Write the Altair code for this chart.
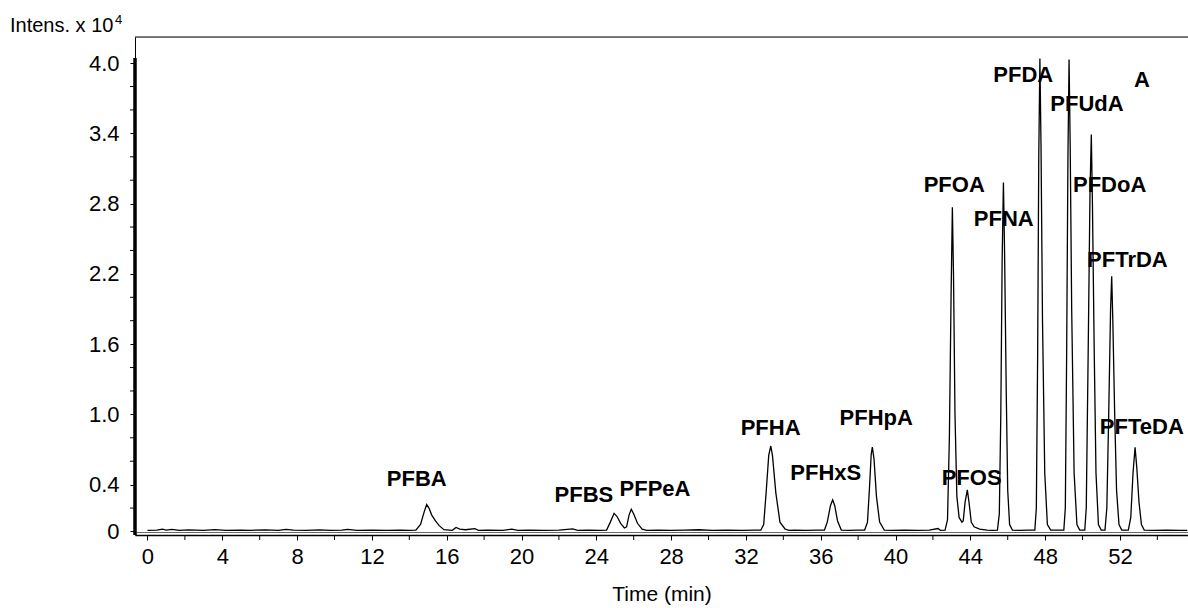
import altair as alt
import pandas as pd

# ---- chromatogram trace (time in min, intensity in 10^4 counts) ----
time_min = [
    0.0, 0.5, 0.8, 1.0, 1.3, 1.7, 2.2, 3.0, 3.6, 4.2, 5.0, 5.5, 6.3, 7.0, 7.4, 7.8,
    8.5, 9.2, 9.8, 10.4, 10.7, 11.2, 12.0, 12.8, 13.5, 14.0,
    14.35, 14.6, 14.8, 14.93, 15.05, 15.2, 15.4, 15.6, 15.85,
    16.3, 16.5, 16.7, 17.0, 17.5, 17.7, 18.2, 19.0, 19.48, 19.8, 20.4, 21.2, 22.0,
    22.74, 23.0, 23.6, 24.2,
    24.55, 24.75, 24.95, 25.1, 25.3, 25.5, 25.62, 25.75, 25.87, 26.0, 26.2, 26.45, 26.7,
    27.3, 28.0, 28.7, 29.5, 30.2, 31.0, 31.8, 32.5,
    32.8, 32.95, 33.08, 33.22, 33.33, 33.42, 33.6, 33.82, 34.1, 34.3,
    34.6, 35.2, 35.8,
    36.2, 36.35, 36.52, 36.64, 36.75, 36.9, 37.1,
    37.5, 38.0,
    38.35, 38.5, 38.6, 38.7, 38.76, 38.85, 38.98, 39.15, 39.4,
    39.8, 40.5, 41.2, 41.8, 42.27, 42.4,
    42.65, 42.78, 42.88, 42.97, 43.04, 43.1, 43.18, 43.28, 43.4, 43.55,
    43.62, 43.72, 43.84, 43.93, 44.05, 44.2, 44.5, 44.9,
    45.2,
    45.45, 45.55, 45.63, 45.7, 45.77, 45.83, 45.92, 46.0, 46.1, 46.25,
    46.6, 47.1,
    47.45, 47.53, 47.6, 47.66, 47.72, 47.78, 47.86, 47.98, 48.12, 48.3,
    48.6,
    49.0, 49.08, 49.15, 49.22, 49.28, 49.34, 49.42, 49.55, 49.7, 49.85,
    50.12, 50.2, 50.3, 50.4, 50.47, 50.53, 50.62, 50.72, 50.85, 51.0,
    51.2, 51.3, 51.4, 51.5, 51.56, 51.62, 51.72, 51.82, 51.95, 52.1,
    52.45, 52.58, 52.7, 52.81, 52.9, 53.02, 53.15, 53.3,
    53.8, 54.5, 55.2, 55.6,
]
intensity = [
    0.010, 0.012, 0.020, 0.012, 0.018, 0.010, 0.014, 0.010, 0.016, 0.010, 0.012, 0.010, 0.014, 0.010, 0.018, 0.012,
    0.010, 0.014, 0.010, 0.012, 0.018, 0.010, 0.012, 0.010, 0.012, 0.010,
    0.012, 0.060, 0.170, 0.230, 0.200, 0.140, 0.090, 0.050, 0.015,
    0.010, 0.035, 0.020, 0.015, 0.025, 0.010, 0.012, 0.010, 0.020, 0.010, 0.012, 0.010, 0.012,
    0.022, 0.010, 0.012, 0.010,
    0.012, 0.080, 0.155, 0.130, 0.070, 0.030, 0.040, 0.140, 0.190, 0.150, 0.070, 0.020, 0.010,
    0.012, 0.010, 0.012, 0.015, 0.010, 0.012, 0.010, 0.012,
    0.012, 0.060, 0.330, 0.650, 0.730, 0.650, 0.330, 0.080, 0.020, 0.010,
    0.012, 0.010, 0.012,
    0.012, 0.080, 0.220, 0.270, 0.220, 0.090, 0.012,
    0.010, 0.012,
    0.012, 0.080, 0.350, 0.660, 0.720, 0.620, 0.300, 0.080, 0.012,
    0.010, 0.012, 0.010, 0.012, 0.025, 0.010,
    0.012, 0.100, 0.800, 2.000, 2.770, 2.200, 1.000, 0.300, 0.120, 0.080,
    0.090, 0.250, 0.355, 0.250, 0.080, 0.040, 0.020, 0.012,
    0.010,
    0.012, 0.150, 1.000, 2.300, 2.980, 2.400, 1.200, 0.350, 0.060, 0.012,
    0.010, 0.012,
    0.012, 0.200, 1.500, 3.200, 4.040, 3.300, 1.800, 0.500, 0.060, 0.012,
    0.012,
    0.012, 0.200, 1.500, 3.200, 4.030, 3.300, 1.900, 0.500, 0.060, 0.012,
    0.012, 0.200, 1.500, 2.900, 3.390, 2.800, 1.600, 0.500, 0.060, 0.012,
    0.012, 0.200, 1.000, 1.900, 2.180, 1.800, 1.000, 0.350, 0.060, 0.012,
    0.012, 0.120, 0.500, 0.720, 0.550, 0.250, 0.060, 0.012,
    0.010, 0.012, 0.010, 0.010,
]

# ---- peak annotations ----
peak_names = ["PFBA", "PFBS", "PFPeA", "PFHA", "PFHxS", "PFHpA", "PFOA", "PFOS",
              "PFNA", "PFDA", "PFUdA", "PFDoA", "PFTrDA", "PFTeDA", "A"]
label_time = [14.4, 23.34, 27.14, 33.32, 36.27, 38.97, 43.14, 44.07,
              45.79, 46.83, 50.24, 51.45, 52.4, 53.17, 53.18]
label_int = [0.45, 0.31, 0.36, 0.88, 0.50, 0.97, 2.96, 0.46,
             2.67, 3.90, 3.65, 2.96, 2.32, 0.89, 3.86]

# ---- axis ticks ----
x_tick_labels = list(range(0, 53, 4))
x_minor_ticks = list(range(2, 55, 4))
y_tick_labels = [0, 0.4, 1.0, 1.6, 2.2, 2.8, 3.4, 4.0]
y_minor_ticks = [0.2, 0.6, 0.8, 1.2, 1.4, 1.8, 2.0, 2.4, 2.6, 3.0, 3.2, 3.6, 3.8]

W, H = 1053, 498
FONT = "Liberation Sans"

trace = pd.DataFrame({"t": time_min, "v": intensity})
labels = pd.DataFrame({"name": peak_names, "t": label_time, "v": label_int})
xminor = pd.DataFrame({"t": x_minor_ticks})
yminor = pd.DataFrame({"v": y_minor_ticks})

xscale = alt.Scale(domain=[-0.668, 55.64], nice=False, zero=False)
yscale = alt.Scale(domain=[-0.03, 4.223], nice=False, zero=False)

x_axis = alt.Axis(values=x_tick_labels, format="d", title="Time (min)",
                  grid=False, tickSize=5, tickColor="black", domainColor="black",
                  domainWidth=1.5, labelFont=FONT, labelFontSize=22, labelColor="black",
                  labelPadding=6, labelOverlap=False, titleFont=FONT, titleFontSize=21,
                  titleFontWeight="normal", titleColor="black", titleBaseline="alphabetic",
                  titleY=65, labelFlush=False)
y_axis = alt.Axis(values=y_tick_labels, labelExpr="datum.value == 0 ? '0' : format(datum.value, '.1f')",
                  title=None, grid=False, tickSize=5, tickColor="black", domainColor="black",
                  domainWidth=1, labelFont=FONT, labelFontSize=22, labelColor="black",
                  labelPadding=11, labelOverlap=False, labelFlush=False)

line = alt.Chart(trace).mark_line(color="black", strokeWidth=1.3, interpolate="linear").encode(
    x=alt.X("t:Q", scale=xscale, axis=x_axis),
    y=alt.Y("v:Q", scale=yscale, axis=y_axis),
)

text = alt.Chart(labels).mark_text(font=FONT, fontSize=22, fontWeight="bold", color="black",
                                   align="center", baseline="middle").encode(
    x=alt.X("t:Q", scale=xscale),
    y=alt.Y("v:Q", scale=yscale),
    text="name:N",
)

x_minor_rule = alt.Chart(xminor).mark_rule(color="black", strokeWidth=1).encode(
    x=alt.X("t:Q", scale=xscale), y=alt.value(H), y2=alt.value(H + 5)
)
y_minor_rule = alt.Chart(yminor).mark_rule(color="black", strokeWidth=1).encode(
    y=alt.Y("v:Q", scale=yscale), x=alt.value(-5), x2=alt.value(0)
)

top_border = alt.Chart(pd.DataFrame({"a": [0]})).mark_rule(color="black", strokeWidth=1.2).encode(
    x=alt.value(0), x2=alt.value(W), y=alt.value(0)
)
thick_left = alt.Chart(pd.DataFrame({"a": [0]})).mark_rule(color="black", strokeWidth=3.5).encode(
    x=alt.value(0), y=alt.value(21), y2=alt.value(H)
)
inner_base = alt.Chart(pd.DataFrame({"a": [0]})).mark_rule(color="#666666", strokeWidth=1).encode(
    x=alt.value(0), x2=alt.value(W), y=alt.value(H - 2.5)
)

title_main = alt.Chart(pd.DataFrame({"s": ["Intens. x 10"]})).mark_text(
    font=FONT, fontSize=20, color="black", align="left", baseline="alphabetic").encode(
    x=alt.value(-125), y=alt.value(-5), text="s:N")
title_sup = alt.Chart(pd.DataFrame({"s": ["4"]})).mark_text(
    font=FONT, fontSize=13, color="black", align="left", baseline="alphabetic").encode(
    x=alt.value(-20), y=alt.value(-13), text="s:N")

chart = alt.layer(inner_base, line, text, x_minor_rule, y_minor_rule, top_border, thick_left,
                  title_main, title_sup).properties(
    width=W, height=H,
    autosize=alt.AutoSizeParams(type="none"),
    padding={"left": 135, "top": 37, "right": 0, "bottom": 73},
).configure_view(stroke=None).configure(background="white")

chart.save("out.html", embed_options={"renderer": "svg", "actions": False})
